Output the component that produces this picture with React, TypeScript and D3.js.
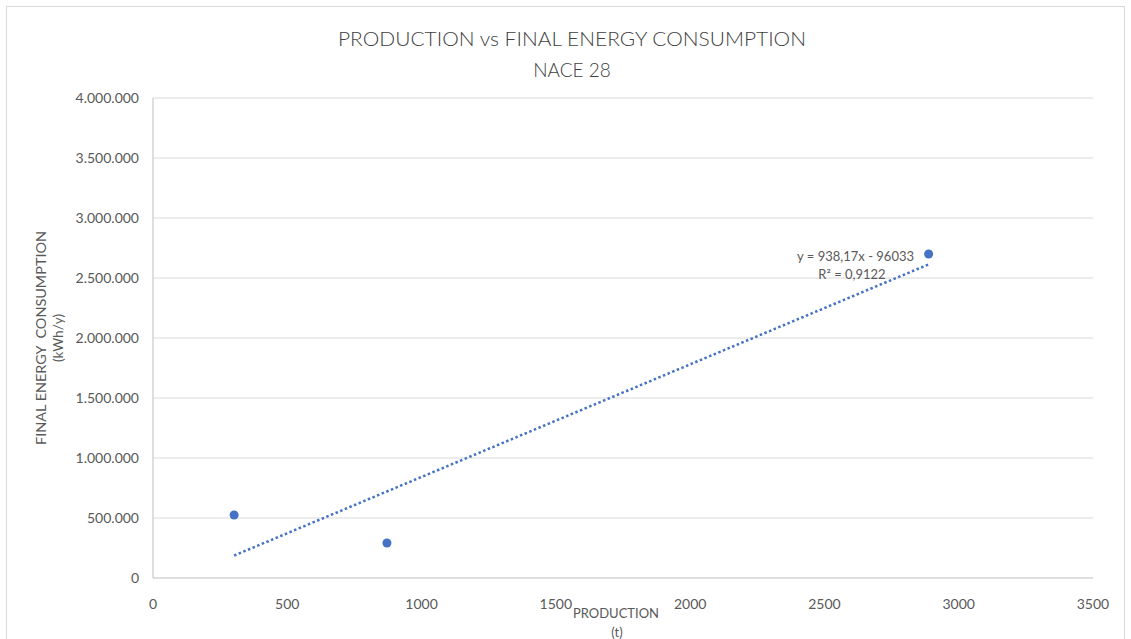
import React from "react";
import * as d3 from "d3";

const production = [302, 871, 2888];
const energy = [525000, 292000, 2700000];
const xTicks = [0, 500, 1000, 1500, 2000, 2500, 3000, 3500];
const yTicks = [0, 500000, 1000000, 1500000, 2000000, 2500000, 3000000, 3500000, 4000000];
const slope = 938.17;
const intercept = -96033;
const titleLines = ["PRODUCTION vs FINAL ENERGY CONSUMPTION", "NACE 28"];
const eqLabel = "y = 938,17x - 96033";
const r2Label = "R² = 0,9122";

const W = 1131;
const H = 639;
const margin = { left: 153, right: 1093, top: 98, bottom: 578 };
const FONT = "Lato, 'Open Sans', sans-serif";
const TXT = "#595959";
const BLUE = "#4472C4";

export default function App() {
  const x = d3.scaleLinear().domain([0, 3500]).range([margin.left, margin.right]);
  const y = d3.scaleLinear().domain([0, 4000000]).range([margin.bottom, margin.top]);
  const fmt = (v: number) => (v === 0 ? "0" : d3.format(",")(v).replace(/,/g, "."));
  const xMin = d3.min(production) as number;
  const xMax = d3.max(production) as number;
  const line = d3
    .line<number>()
    .x((d) => x(d))
    .y((d) => y(slope * d + intercept));

  return (
    <svg
      width={W}
      height={H}
      style={{ position: "absolute", left: 0, top: 0, display: "block", background: "#fff" }}
      fontFamily={FONT}
    >
      <rect x={0} y={0} width={W} height={H} fill="#fff" />
      <rect x={6.5} y={6.5} width={1118} height={H + 10} fill="none" stroke="#d9d9d9" strokeWidth={1} />
      <text x={572} y={46} textAnchor="middle" fontSize={19} fontWeight={300} fill="#404040" textLength={468} lengthAdjust="spacingAndGlyphs">
        {titleLines[0]}
      </text>
      <text x={572} y={77} textAnchor="middle" fontSize={19} fontWeight={300} fill="#404040">
        {titleLines[1]}
      </text>
      {yTicks.map((t) => (
        <g key={t}>
          {t > 0 && (
            <line x1={margin.left} x2={margin.right} y1={y(t)} y2={y(t)} stroke="#d9d9d9" strokeWidth={1} />
          )}
          <text x={139} y={y(t) + 5} textAnchor="end" fontSize={14} fill={TXT}>
            {fmt(t)}
          </text>
        </g>
      ))}
      <line x1={margin.left} x2={margin.left} y1={margin.top} y2={margin.bottom} stroke="#bfbfbf" strokeWidth={1} />
      <line x1={margin.left} x2={margin.right} y1={margin.bottom} y2={margin.bottom} stroke="#bfbfbf" strokeWidth={1} />
      {xTicks.map((t) => (
        <text key={t} x={x(t)} y={609} textAnchor="middle" fontSize={14} fill={TXT}>
          {t}
        </text>
      ))}
      <text x={616} y={618} textAnchor="middle" fontSize={13} fill={TXT}>
        PRODUCTION
      </text>
      <text x={617} y={637} textAnchor="middle" fontSize={13} fill={TXT}>
        (t)
      </text>
      <text transform={`translate(46,${(margin.top + margin.bottom) / 2}) rotate(-90)`} textAnchor="middle" fontSize={13.5} fill={TXT} textLength={214} lengthAdjust="spacingAndGlyphs" style={{ whiteSpace: "pre" }}>
        {"FINAL ENERGY  CONSUMPTION"}
      </text>
      <text transform={`translate(63,${(margin.top + margin.bottom) / 2}) rotate(-90)`} textAnchor="middle" fontSize={13.5} fill={TXT}>
        (kWh/y)
      </text>
      <path
        d={line([xMin, xMax]) || ""}
        fill="none"
        stroke={BLUE}
        strokeWidth={2.5}
        strokeDasharray="2.5 2.5"
      />
      {production.map((p, i) => (
        <circle key={i} cx={x(p)} cy={y(energy[i])} r={4.5} fill={BLUE} />
      ))}
      <text x={914} y={261} textAnchor="end" fontSize={13} fill={TXT}>
        {eqLabel}
      </text>
      <text x={852} y={279} textAnchor="middle" fontSize={13} fill={TXT}>
        {r2Label}
      </text>
    </svg>
  );
}
